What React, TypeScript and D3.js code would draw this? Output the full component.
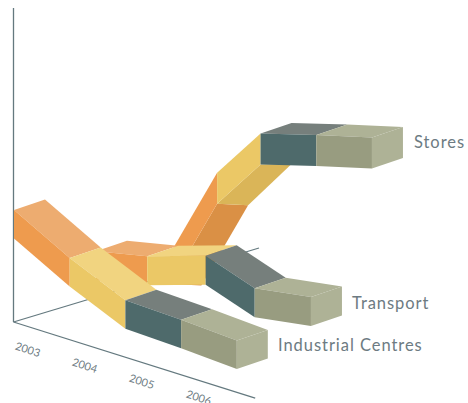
import React from "react";
import * as d3 from "d3";

// Ribbon palette per segment: orange, yellow, teal, sage.
const frontColors = ["#ee9b4e", "#ebc866", "#4e6a6b", "#989c80"];
const topColors = ["#edac70", "#f1d480", "#767f7c", "#aeb296"];
const underColors = ["#da9045", "#dab558", "#3f5859", "#83876d"];
const capColor = "#aeb296";
const inkColor = "#64797f";
const labelColor = "#6d7b82";

const axisYears = [2003, 2004, 2005, 2006];

const seriesNames = ["Stores", "Transport", "Industrial Centres"];
const seriesDepths = [4.36, 2.5, 0];
const seriesThickness = [31, 29, 28.5];

const storesYears = [2003.38, 2004.22, 2005, 2006, 2007];
const storesValues = [30, 125, 178, 194, 209];
const storesSag = [12, 12, 10, 0, 0];

const transportYears = [2003.08, 2004, 2005.05, 2005.93, 2006.94];
const transportValues = [46, 57, 76, 59, 68];
const transportSag = [0, 0, 0, 0, 0];

const industrialYears = [2003, 2004, 2005, 2006, 2007];
const industrialValues = [112, 81.6, 57, 55, 52];
const industrialSag = [0, 0, 0, 0, 0];

const seriesYears = [storesYears, transportYears, industrialYears];
const seriesValues = [storesValues, transportValues, industrialValues];
const seriesSag = [storesSag, transportSag, industrialSag];

const labelPositions: [number, number][] = [
  [414, 148],
  [352, 309],
  [278, 351],
];

const WIDTH = 468;
const HEIGHT = 403;
const ORIGIN: [number, number] = [14, 322];

// Oblique projection: years run down to the right, depth runs up to the right.
const yearX = d3.scaleLinear().domain([2003, 2007]).range([0, 222.8]);
const yearY = d3.scaleLinear().domain([2003, 2007]).range([0, 70.4]);
const depthX = d3.scaleLinear().domain([0, 1]).range([0, 31]);
const depthY = d3.scaleLinear().domain([0, 1]).range([0, -10.5]);
const valueY = d3.scaleLinear().domain([0, 120]).range([0, 120]);

type Pt = [number, number];

const project = (year: number, depth: number, value: number): Pt => [
  ORIGIN[0] + yearX(year) + depthX(depth),
  ORIGIN[1] + yearY(year) + depthY(depth) - valueY(value),
];

const polyPath = d3.line<Pt>().x((d) => d[0]).y((d) => d[1]);
const closed = (pts: Pt[]) => (polyPath(pts) as string) + "Z";

const labelX = d3.scaleLinear().domain([2003, 2006]).range([28, 199]);
const labelY = d3.scaleLinear().domain([2003, 2006]).range([349, 397]);

function Ribbon({ index }: { index: number }) {
  const years = seriesYears[index];
  const values = seriesValues[index];
  const sag = seriesSag[index];
  const z = seriesDepths[index];
  const h = seriesThickness[index];

  const frontTop = years.map((y, i) => project(y, z, values[i]));
  const frontBottom = years.map((y, i) => project(y, z, values[i] - h));
  const backTop = years.map((y, i) => project(y, z + 1, values[i]));
  const backBottom = years.map((y, i) => {
    const p = project(y, z + 1, values[i] - h);
    return [p[0], p[1] + sag[i]] as Pt;
  });

  const faces: React.ReactElement[] = [];
  for (let i = 0; i < years.length - 1; i++) {
    const dx = frontTop[i + 1][0] - frontTop[i][0];
    const dy = frontTop[i + 1][1] - frontTop[i][1];
    // A steep climb exposes the underside; otherwise the upper surface shows.
    const climbs = dy / dx < depthY(1) / depthX(1);
    faces.push(
      climbs ? (
        <path
          key={`u${i}`}
          d={closed([frontBottom[i], frontBottom[i + 1], backBottom[i + 1], backBottom[i]])}
          fill={underColors[i]}
        />
      ) : (
        <path
          key={`t${i}`}
          d={closed([frontTop[i], frontTop[i + 1], backTop[i + 1], backTop[i]])}
          fill={topColors[i]}
        />
      ),
    );
  }
  for (let i = 0; i < years.length - 1; i++) {
    faces.push(
      <path
        key={`f${i}`}
        d={closed([frontTop[i], frontTop[i + 1], frontBottom[i + 1], frontBottom[i]])}
        fill={frontColors[i]}
      />,
    );
  }
  const n = years.length - 1;
  faces.push(
    <path
      key="cap"
      d={closed([frontTop[n], backTop[n], backBottom[n], frontBottom[n]])}
      fill={capColor}
    />,
  );
  return <g>{faces}</g>;
}

export default function App() {
  const xAxisEnd = project(2007.33, 0, 0);
  const depthAxisEnd: Pt = [259, 248];
  return (
    <svg
      width={WIDTH}
      height={HEIGHT}
      style={{ position: "absolute", left: 0, top: 0 }}
      fontFamily="Lato, 'Open Sans', sans-serif"
    >
      <rect width={WIDTH} height={HEIGHT} fill="#fff" />
      <g stroke={inkColor} strokeWidth={1.3} fill="none">
        <line x1={13.5} y1={8} x2={13.5} y2={ORIGIN[1]} />
        <line x1={13.5} y1={ORIGIN[1]} x2={xAxisEnd[0]} y2={xAxisEnd[1]} />
        <line x1={13.5} y1={ORIGIN[1]} x2={depthAxisEnd[0]} y2={depthAxisEnd[1]} />
      </g>
      {seriesNames.map((name, i) => (
        <Ribbon key={name} index={i} />
      ))}
      {axisYears.map((year) => (
        <text
          key={year}
          transform={`translate(${labelX(year)},${labelY(year)}) rotate(18)`}
          textAnchor="middle"
          dominantBaseline="central"
          fontSize={11}
          fill={labelColor}
        >
          {year}
        </text>
      ))}
      {seriesNames.map((name, i) => (
        <text
          key={name}
          x={labelPositions[i][0]}
          y={labelPositions[i][1]}
          fontSize={16.5}
          letterSpacing={0.95}
          fill={labelColor}
        >
          {name}
        </text>
      ))}
    </svg>
  );
}
